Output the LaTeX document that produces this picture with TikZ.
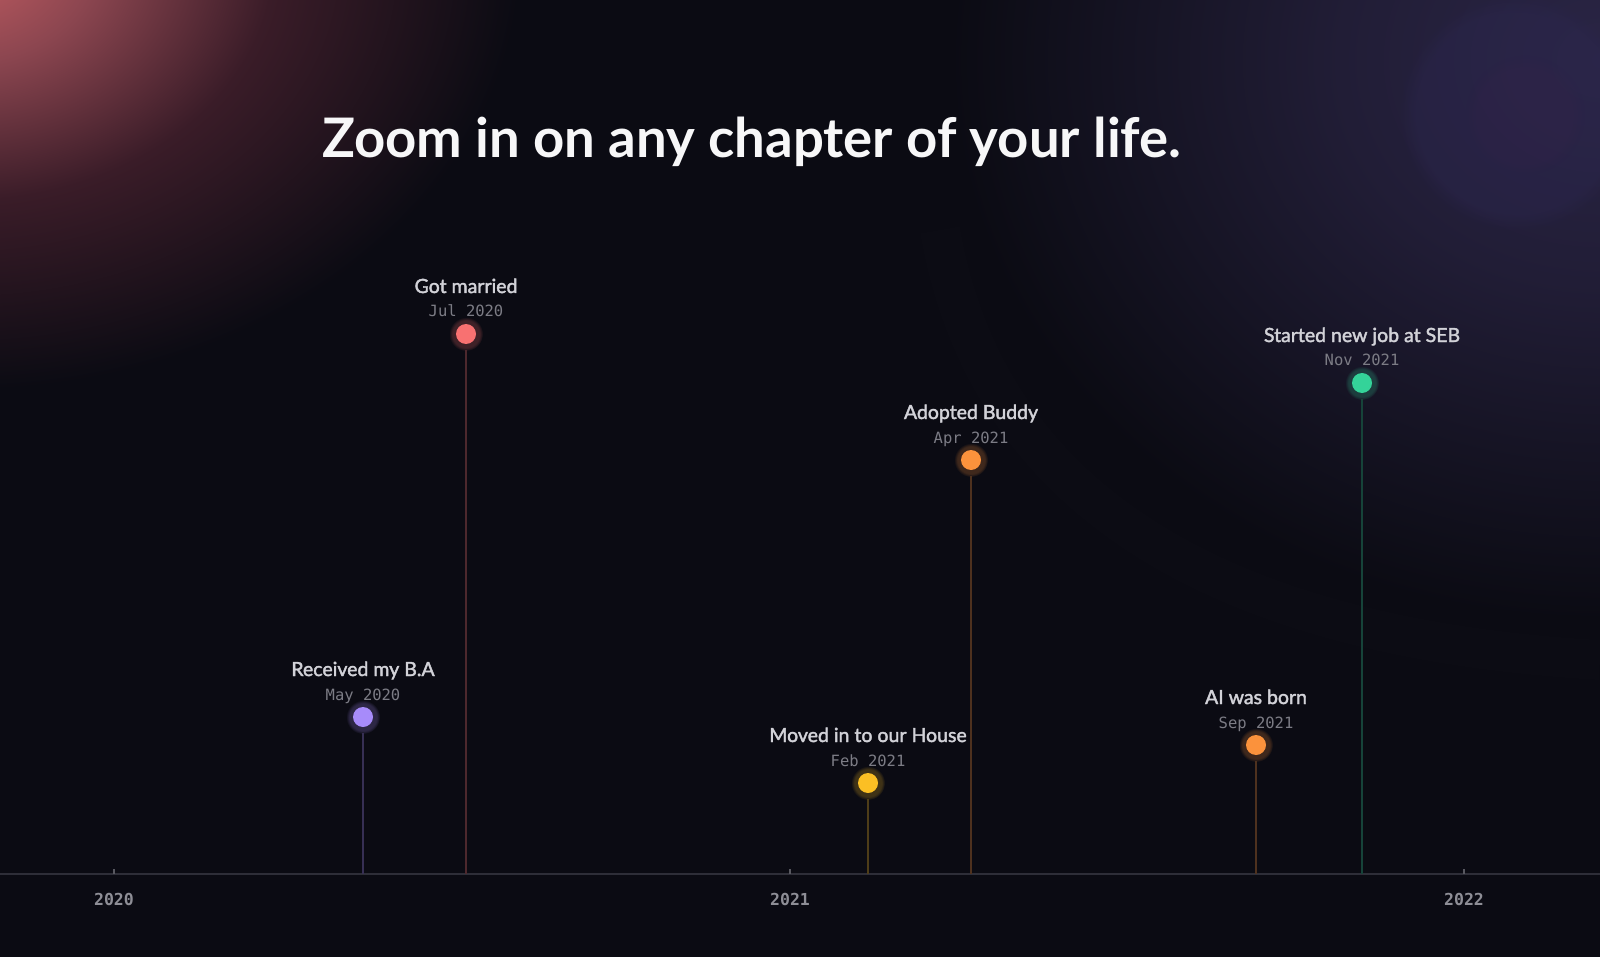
\documentclass[tikz,border=0pt]{standalone}
\usepackage{fontspec}
\usetikzlibrary{fadings}
\setmainfont{Lato}
\newfontfamily\titlefont{Lato}[BoldFont={* Bold}]
\newfontfamily\lblfont{Lato}[FakeBold=2]
\newfontfamily\monofont{DejaVu Sans Mono}
\definecolor{bgc}{HTML}{0B0B13}
\definecolor{glowA}{HTML}{C45D62}
\definecolor{glowB}{HTML}{8C4650}
\definecolor{glowC}{HTML}{3A1C28}
\definecolor{purA}{HTML}{2A2545}
\definecolor{purB}{HTML}{211D36}
\definecolor{ringc}{HTML}{2C2750}
\definecolor{ringin}{HTML}{35224A}
\definecolor{titlec}{HTML}{F7F7F8}
\definecolor{lblc}{HTML}{D2D2D8}
\definecolor{datec}{HTML}{7C7C85}
\definecolor{yearc}{HTML}{8E8E96}
\definecolor{axisc}{HTML}{2E2E38}
\definecolor{cpur}{HTML}{A78BFA}
\definecolor{cred}{HTML}{F87171}
\definecolor{cyel}{HTML}{FBBF24}
\definecolor{cora}{HTML}{FB923C}
\definecolor{cgrn}{HTML}{34D399}
\pgfdeclareradialshading{redglow}{\pgfpoint{0bp}{0bp}}{color(0bp)=(glowA); color(6bp)=(glowB); color(14bp)=(glowC); color(25bp)=(bgc); color(50bp)=(bgc)}
\pgfdeclareradialshading{purglow}{\pgfpoint{0bp}{0bp}}{color(0bp)=(purA); color(10bp)=(purB); color(25bp)=(bgc); color(50bp)=(bgc)}
\tikzset{
  evtitle/.style={font=\lblfont\fontsize{19.5}{22}\selectfont, text=lblc, anchor=base, inner sep=0pt},
  evdate/.style={font=\monofont\fontsize{15.5}{17}\selectfont, text=datec, anchor=base, inner sep=0pt},
  evdot/.style={circle, fill=#1, minimum size=20pt, inner sep=0pt},
  stem/.style={draw=#1!28!bgc, line width=1.1pt, shorten <=6pt},
  yearlbl/.style={font=\monofont\bfseries\fontsize{16.5}{18}\selectfont, text=yearc, anchor=base, inner sep=0pt},
  tick/.style={draw=axisc!80!white, line width=1.2pt}
}
\newcommand{\glowdot}[2]{\fill[#2, opacity=0.22, path fading=circle with fuzzy edge 20 percent] #1 circle (17);}
\begin{document}
\begin{tikzpicture}[x=1pt,y=-1pt]
\useasboundingbox (0,0) rectangle (1600,957);
\begin{scope}
\clip (0,0) rectangle (1600,957);
\fill[bgc] (0,0) rectangle (1600,957);
\shade[shading=redglow] (-40,-40) ellipse (560 and 430);
\shade[shading=purglow] (1600,60) ellipse (650 and 560);
\fill[ringc, opacity=0.40, path fading=circle with fuzzy edge 15 percent] (1517,113) circle (118);
\fill[ringin, opacity=0.25, path fading=circle with fuzzy edge 20 percent] (1525,115) circle (60);
\draw[white, opacity=0.007, line width=40pt] (940,230) .. controls (990,520) and (1250,640) .. (1600,660);
\end{scope}

% title
\node[font=\titlefont\bfseries\fontsize{54.5}{60}\selectfont, text=titlec, anchor=base west, inner sep=0pt] (title) at (322,158) {Zoom in on any chapter of your life.};

% axis
\coordinate (axL) at (0,874);
\coordinate (axR) at (1600,874);
\draw[axisc, line width=1.5pt] (axL) -- (axR);
\coordinate (t0) at (114,874);
\coordinate (t1) at (790,874);
\coordinate (t2) at (1464,874);
\draw[tick] (t0) -- ++(0,-5);
\draw[tick] (t1) -- ++(0,-5);
\draw[tick] (t2) -- ++(0,-5);
\node[yearlbl] (y0) at (114,905) {2020};
\node[yearlbl] (y1) at (790,905) {2021};
\node[yearlbl] (y2) at (1464,905) {2022};

% events
\coordinate (a1) at (363,874);
\glowdot{(363,717)}{cpur}
\node[evdot=cpur] (d1) at (363,717) {};
\node[evtitle] (n1) at (363,676) {Received my B.A};
\node[evdate] (m1) at (363,700) {May 2020};
\draw[stem=cpur] (d1) -- (a1);

\coordinate (a2) at (466,874);
\glowdot{(466,334)}{cred}
\node[evdot=cred] (d2) at (466,334) {};
\node[evtitle] (n2) at (466,293) {Got married};
\node[evdate] (m2) at (466,317) {Jul 2020};
\draw[stem=cred] (d2) -- (a2);

\coordinate (a3) at (868,874);
\glowdot{(868,783)}{cyel}
\node[evdot=cyel] (d3) at (868,783) {};
\node[evtitle] (n3) at (868,742) {Moved in to our House};
\node[evdate] (m3) at (868,766) {Feb 2021};
\draw[stem=cyel] (d3) -- (a3);

\coordinate (a4) at (971,874);
\glowdot{(971,460)}{cora}
\node[evdot=cora] (d4) at (971,460) {};
\node[evtitle] (n4) at (971,419) {Adopted Buddy};
\node[evdate] (m4) at (971,443) {Apr 2021};
\draw[stem=cora] (d4) -- (a4);

\coordinate (a5) at (1256,874);
\glowdot{(1256,745)}{cora}
\node[evdot=cora] (d5) at (1256,745) {};
\node[evtitle] (n5) at (1256,704) {AI was born};
\node[evdate] (m5) at (1256,728) {Sep 2021};
\draw[stem=cora] (d5) -- (a5);

\coordinate (a6) at (1362,874);
\glowdot{(1362,383)}{cgrn}
\node[evdot=cgrn] (d6) at (1362,383) {};
\node[evtitle] (n6) at (1362,342) {Started new job at SEB};
\node[evdate] (m6) at (1362,366) {Nov 2021};
\draw[stem=cgrn] (d6) -- (a6);
\end{tikzpicture}
\end{document}
